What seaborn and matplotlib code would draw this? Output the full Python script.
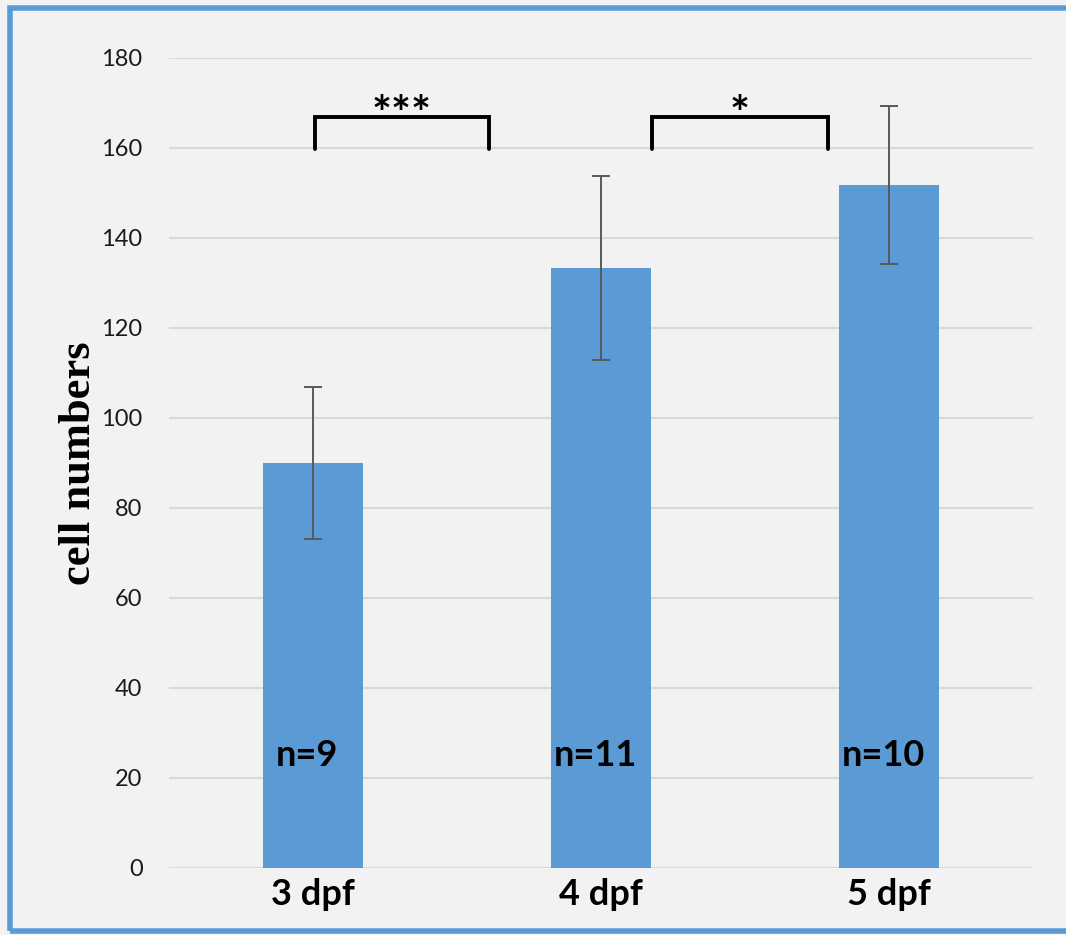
import matplotlib
matplotlib.use('Agg')
import matplotlib.pyplot as plt
import seaborn as sns
import numpy as np
from matplotlib.patches import Rectangle

# data
days = ['3 dpf', '4 dpf', '5 dpf']
cell_means = [90, 133.3, 151.8]
cell_err = [16.8, 20.5, 17.5]
n_labels = ['n=9', 'n=11', 'n=10']
# significance brackets: (x start, x end, label) in category units
sig_brackets = [(0.007, 0.611, '***'), (1.177, 1.788, '*')]

bar_color = '#5b9bd5'
bg = '#f2f2f2'

sns.set_style('white', {'axes.facecolor': bg, 'figure.facecolor': bg,
                        'text.color': 'black', 'xtick.color': 'black',
                        'ytick.color': 'black', 'axes.labelcolor': 'black'})
plt.rcParams['font.family'] = ['Lato', 'DejaVu Sans']

fig = plt.figure(figsize=(10.66, 9.35), dpi=100)
ax = fig.add_axes([0.1585, 0.0717, 0.8105, 0.8663])

sns.barplot(x=days, y=cell_means, color=bar_color, width=0.35, saturation=1,
            linewidth=0, ax=ax)
ax.errorbar(np.arange(len(days)), cell_means, yerr=cell_err, fmt='none',
            ecolor='#595959', elinewidth=1.4, capsize=6.5, capthick=1.4, zorder=3)

ax.set_xlim(-0.5, 2.5)
ax.set_ylim(0, 180)
ax.set_yticks(range(0, 181, 20))
ax.yaxis.grid(True, color='#d9d9d9', linewidth=1.5)
ax.set_axisbelow(True)
for s in ax.spines.values():
    s.set_visible(False)
ax.tick_params(axis='both', length=0)
ax.tick_params(axis='y', labelsize=17, pad=19, labelcolor='#1a1a1a')
ax.tick_params(axis='x', pad=7)
for lab in ax.get_xticklabels():
    lab.set_fontsize(26)
    lab.set_fontweight('bold')

ax.set_ylabel('cell numbers', fontsize=32, fontweight='bold',
              family=['Liberation Serif'], labelpad=2)

# n labels inside bars
for i, t in enumerate(n_labels):
    ax.text(i - 0.02, 25, t, ha='center', va='center', fontsize=26, fontweight='bold')

# significance brackets
for x0, x1, lab in sig_brackets:
    ax.plot([x0, x0, x1, x1], [159.8, 166.9, 166.9, 159.8], color='black',
            linewidth=2.8, solid_joinstyle='miter', clip_on=False)
    ax.text((x0 + x1) / 2, 162.3, lab, ha='center', va='bottom', fontsize=34, fontweight='bold')

# blue frame around the figure
fig.patches.append(Rectangle((0.0094, 0.0043), 1.2, 0.987, transform=fig.transFigure,
                             fill=False, edgecolor=bar_color, linewidth=4))

plt.savefig('out.png', dpi=100, facecolor=bg)
plt.close()
